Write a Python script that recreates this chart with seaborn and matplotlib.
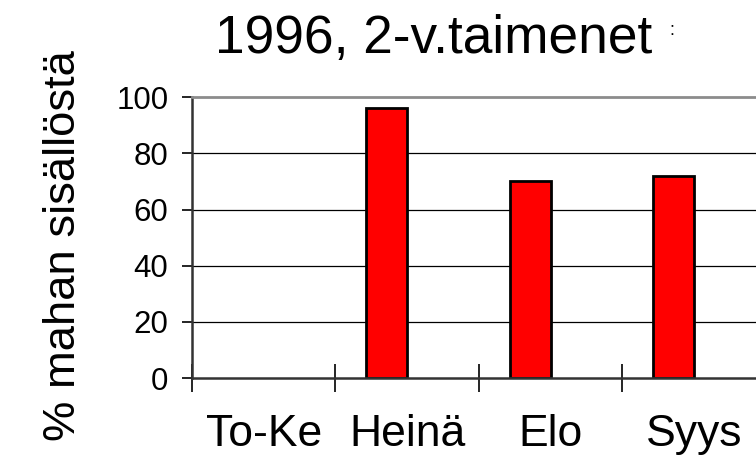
import numpy as np
import pandas as pd
import matplotlib
matplotlib.use("Agg")
import matplotlib.pyplot as plt
import seaborn as sns

# data
categories = ["To-Ke", "Heinä", "Elo", "Syys"]
series_names = ["2-v.", "muu"]
values_main = [np.nan, 96, 70, 72]
values_other = [np.nan, np.nan, np.nan, np.nan]
y_ticks = [0, 20, 40, 60, 80, 100]

df = pd.DataFrame({
    "kk": categories * 2,
    "sarja": [series_names[0]] * 4 + [series_names[1]] * 4,
    "arvo": values_main + values_other,
})

sns.set_theme(style="white")
plt.rcParams["font.family"] = ["Liberation Sans", "DejaVu Sans"]
plt.rcParams["text.color"] = "black"
plt.rcParams["xtick.color"] = "black"
plt.rcParams["ytick.color"] = "black"

fig = plt.figure(figsize=(7.56, 4.65), dpi=100)
ax = fig.add_axes([0.254, 0.187, 0.759, 0.604])

sns.barplot(data=df, x="kk", y="arvo", hue="sarja", order=categories,
            hue_order=series_names, palette=["#ff0000", "#ff0000"],
            saturation=1, width=0.572, edgecolor="black", linewidth=2,
            ax=ax, legend=False, errorbar=None)

ax.set_xlim(-0.5, len(categories) - 0.5)
ax.set_ylim(0, 100)
ax.set_yticks(y_ticks)
ax.set_xlabel("")
ax.set_ylabel("")

# grid lines
for v in y_ticks[1:-1]:
    ax.axhline(v, color="black", lw=0.9, zorder=0)

for s in ["left", "bottom"]:
    ax.spines[s].set_color("#333333")
    ax.spines[s].set_linewidth(1.8)
ax.spines["top"].set_color("#8c8c8c")
ax.spines["top"].set_linewidth(2)
ax.spines["right"].set_visible(False)

ax.tick_params(axis="y", direction="out", length=7, width=1.2,
               color="black", labelsize=22.5, pad=10, left=True,
               labelcolor="black")
ax.set_xticks(np.arange(-0.5, len(categories) - 0.4, 1.0), minor=True)
ax.tick_params(axis="x", which="minor", direction="inout", length=20,
               width=1.2, color="black", bottom=True)
ax.tick_params(axis="x", which="major", length=0, labelsize=32, pad=26,
               labelcolor="black")

fig.text(0.573, 0.886, "1996, 2-v.taimenet", ha="center", va="baseline",
         fontsize=38.3)
fig.text(0.889, 0.935, ":", ha="center", va="center", fontsize=13)
fig.text(0.084, 0.471, "% mahan sisällöstä", rotation=90, ha="center",
         va="center", fontsize=32.7)

fig.savefig("out.png", dpi=100)
